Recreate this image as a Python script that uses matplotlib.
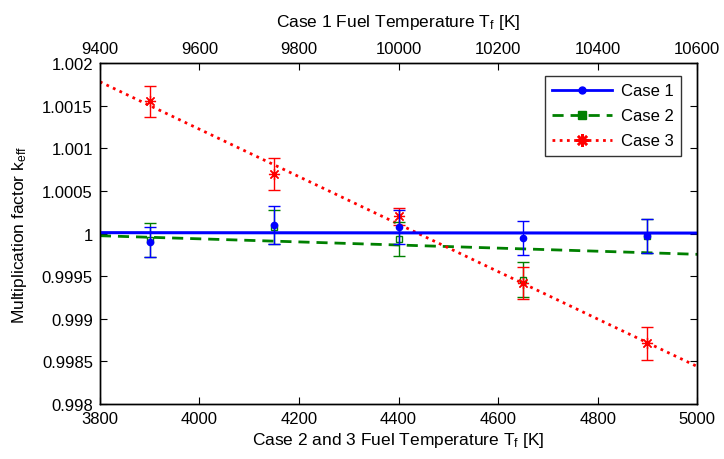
import matplotlib
matplotlib.use("Agg")
import matplotlib.pyplot as plt
from matplotlib.lines import Line2D
from matplotlib.ticker import FuncFormatter, MultipleLocator

plt.rcParams['font.family'] = ['Liberation Sans', 'DejaVu Sans']
plt.rcParams['mathtext.default'] = 'regular'

# Fuel temperatures [K]
temp_case23 = [3900, 4150, 4400, 4650, 4900]
temp_case1 = [9500, 9750, 10000, 10250, 10500]

# Multiplication factor k_eff and its uncertainty
keff_case1 = [0.99990, 1.00010, 1.00008, 0.99995, 0.99997]
err_case1 = [0.00018, 0.00022, 0.00020, 0.00020, 0.00020]
keff_case2 = [0.99992, 1.00008, 0.99994, 0.99946, 0.99997]
err_case2 = [0.00020, 0.00020, 0.00020, 0.00020, 0.00020]
keff_case3 = [1.00155, 1.00070, 1.00020, 0.99942, 0.99871]
err_case3 = [0.00018, 0.00019, 0.00010, 0.00019, 0.00019]

# Linear fits (end points)
fit_x_case1 = [9400, 10600]
fit_y_case1 = [1.000010, 1.000005]
fit_x_case23 = [3800, 5000]
fit_y_case2 = [0.999974, 0.999756]
fit_y_case3 = [1.001780, 0.998440]

fig = plt.figure(figsize=(7.24, 4.60), dpi=100)
ax = fig.add_axes([0.138, 0.1196, 0.825, 0.7412])
ax_top = ax.twiny()

blue = '#0000ff'
green = '#008000'
red = '#ff0000'
star = (8, 2, 0)

# Cases 2 and 3 on the bottom axis
ax.plot(fit_x_case23, fit_y_case2, color=green, lw=2, ls=(0, (4, 2.5)), zorder=2)
ax.errorbar(temp_case23, keff_case2, yerr=err_case2, fmt='s', color=green,
            mfc='none', mec=green, ms=5, elinewidth=1, capsize=4, capthick=1, zorder=3)
ax.plot(fit_x_case23, fit_y_case3, color=red, lw=2, ls=(0, (1, 1.6)), zorder=2)
ax.errorbar(temp_case23, keff_case3, yerr=err_case3, fmt='none', ecolor=red,
            elinewidth=1, capsize=4, capthick=1, zorder=3)
ax.plot(temp_case23, keff_case3, ls='none', marker=star, ms=8, color=red,
        mew=0.9, zorder=4)

# Case 1 on the top axis
ax_top.plot(fit_x_case1, fit_y_case1, color=blue, lw=2.2, zorder=2)
ax_top.errorbar(temp_case1, keff_case1, yerr=err_case1, fmt='o', color=blue,
                ms=4.5, elinewidth=1, capsize=4, capthick=1, zorder=3)

ax.set_xlim(3800, 5000)
ax.set_ylim(0.998, 1.002)
ax_top.set_xlim(9400, 10600)

ax.xaxis.set_major_locator(MultipleLocator(200))
ax.yaxis.set_major_locator(MultipleLocator(0.0005))
ax.yaxis.set_major_formatter(FuncFormatter(lambda v, p: f"{v:.4f}".rstrip('0').rstrip('.')))
ax_top.xaxis.set_major_locator(MultipleLocator(200))

ax.tick_params(axis='both', direction='in', length=5, width=0.8, labelsize=12,
               top=False, right=True, pad=5)
ax_top.tick_params(axis='x', direction='in', length=5, width=0.8, labelsize=12, pad=5)

ax.set_xlabel('Case 2 and 3 Fuel Temperature T$_f$ [K]', fontsize=12.5, labelpad=3)
ax_top.set_xlabel('Case 1 Fuel Temperature T$_f$ [K]', fontsize=12.5, labelpad=11)
ax.set_ylabel('Multiplication factor k$_{eff}$', fontsize=12.5, labelpad=9)

for a in (ax, ax_top):
    for s in a.spines.values():
        s.set_linewidth(1.0)

handles = [
    Line2D([], [], color=blue, lw=2, marker='o', ms=5),
    Line2D([], [], color=green, lw=2, ls=(0, (4, 2.5)), marker='s', ms=6),
    Line2D([], [], color=red, lw=2, ls=(0, (1, 1.6)), marker=star, ms=9, mew=1.8),
]
leg = ax_top.legend(handles, ['Case 1', 'Case 2', 'Case 3'], loc='upper right',
                    bbox_to_anchor=(0.973, 0.962), borderaxespad=0, fontsize=12,
                    frameon=True, fancybox=False, edgecolor='black',
                    handlelength=3.6, borderpad=0.45, labelspacing=0.6,
                    handletextpad=0.5)
leg.get_frame().set_linewidth(1.0)

fig.savefig('out.png', dpi=100)
